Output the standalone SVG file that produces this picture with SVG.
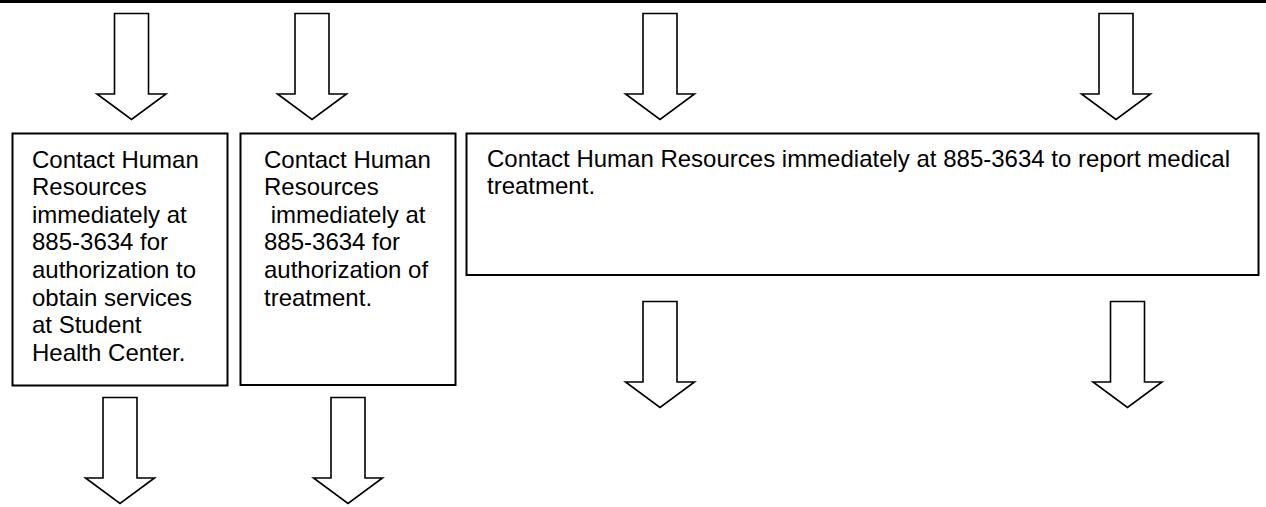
<svg xmlns="http://www.w3.org/2000/svg" width="1266" height="507" viewBox="0 0 1266 507">
  <style>
    .box { fill: #ffffff; stroke: #000000; stroke-width: 2; }
    .arrow { fill: #ffffff; stroke: #000000; stroke-width: 1.6; stroke-linejoin: miter; }
    .txt { font-family: "Liberation Sans", Arial, sans-serif; font-size: 24px; fill: #000000; }
  </style>
  <defs>
    <!-- block arrow centred on x=0, top at y=0: shaft 35 wide, head 69 wide -->
    <polygon id="arrowTop" points="-17,0 17,0 17,80.5 34.5,80.5 0,106 -34.5,80.5 -17,80.5"/>
  </defs>
  <rect x="0" y="0" width="1266" height="507" fill="#ffffff"/>
  <rect id="topRule" x="0" y="0" width="1266" height="3" fill="#000000"/>

  <g id="connectors">
    <use href="#arrowTop" class="arrow" transform="translate(131.5,13.5)"/>
    <use href="#arrowTop" class="arrow" transform="translate(312,13.5)"/>
    <use href="#arrowTop" class="arrow" transform="translate(660,13.5)"/>
    <use href="#arrowTop" class="arrow" transform="translate(1116,13.5)"/>
    <use href="#arrowTop" class="arrow" transform="translate(660,301.5)"/>
    <use href="#arrowTop" class="arrow" transform="translate(1127.5,301.5)"/>
    <use href="#arrowTop" class="arrow" transform="translate(120,397.5)"/>
    <use href="#arrowTop" class="arrow" transform="translate(348,397.5)"/>
  </g>

  <g id="node-student-health">
    <rect class="box" x="12.5" y="133.5" width="215" height="252"/>
    <text class="txt" x="32">
      <tspan x="32" y="167.5">Contact Human</tspan>
      <tspan x="32" y="195.1">Resources</tspan>
      <tspan x="32" y="222.7">immediately at</tspan>
      <tspan x="32" y="250.3">885-3634 for</tspan>
      <tspan x="32" y="277.9">authorization to</tspan>
      <tspan x="32" y="305.5">obtain services</tspan>
      <tspan x="32" y="333.1">at Student</tspan>
      <tspan x="32" y="360.7">Health Center.</tspan>
    </text>
  </g>

  <g id="node-authorization">
    <rect class="box" x="240.5" y="133.5" width="215" height="251.5"/>
    <text class="txt" x="264" xml:space="preserve"><tspan x="264" y="167.5">Contact Human</tspan><tspan x="264" y="195.1">Resources</tspan><tspan x="264" y="222.7"> immediately at</tspan><tspan x="264" y="250.3">885-3634 for</tspan><tspan x="264" y="277.9">authorization of</tspan><tspan x="264" y="305.5">treatment.</tspan></text>
  </g>

  <g id="node-report">
    <rect class="box" x="466.5" y="133.5" width="792" height="141.5"/>
    <text class="txt" x="487">
      <tspan x="487" y="166.5">Contact Human Resources immediately at 885-3634 to report medical</tspan>
      <tspan x="487" y="194.1">treatment.</tspan>
    </text>
  </g>
</svg>
